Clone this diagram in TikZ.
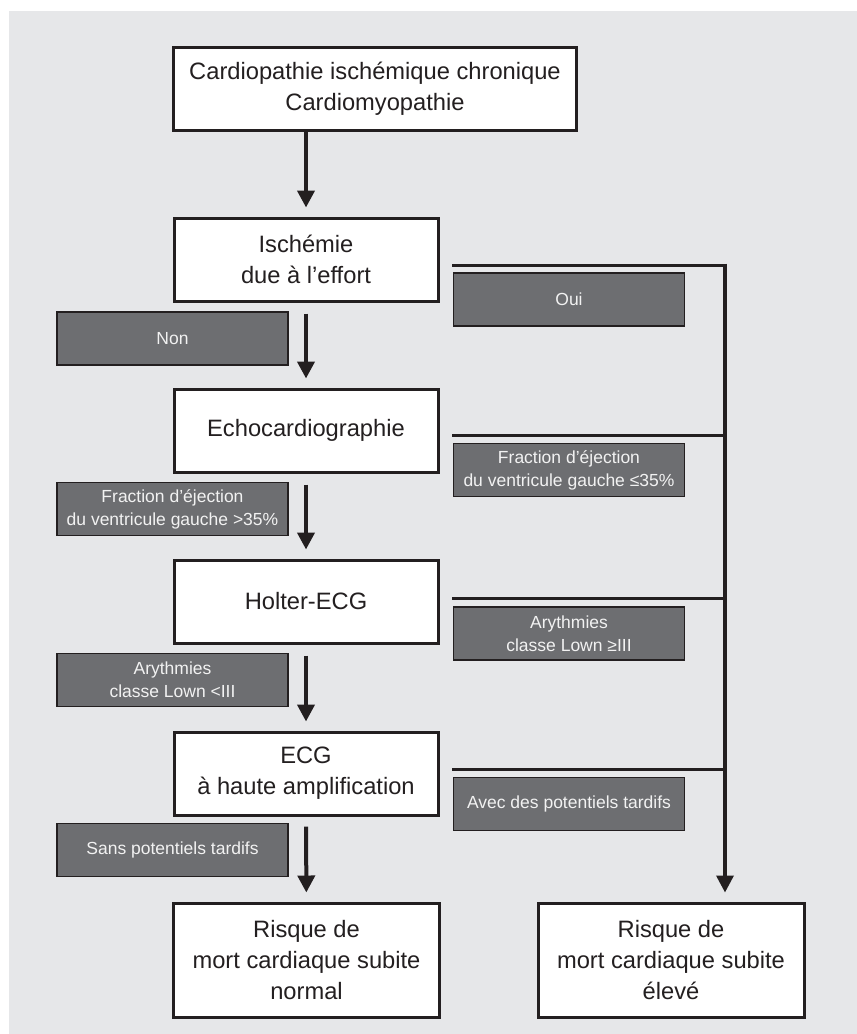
\documentclass[tikz,border=0pt]{standalone}
\usepackage{fontspec}
\setmainfont{Liberation Sans}
\usetikzlibrary{arrows.meta,calc}
\definecolor{bggray}{HTML}{E6E7E9}
\definecolor{boxdark}{HTML}{6D6E71}
\definecolor{ink}{HTML}{231F20}
\definecolor{lighttext}{HTML}{F2F2F2}
\begin{document}
\begin{tikzpicture}[x=1pt,y=-1pt,
  mainbox/.style={draw=ink, line width=3pt, fill=white, text=ink, align=center,
    font=\fontsize{23.7}{31}\selectfont, inner sep=0pt},
  stdbox/.style={mainbox, minimum width=264pt, minimum height=83pt},
  endbox/.style={mainbox, minimum width=266pt, minimum height=114pt},
  labelbox/.style={draw=ink, line width=1.2pt, fill=boxdark, text=lighttext, align=center,
    font=\fontsize{17.5}{23}\selectfont, minimum width=231pt, minimum height=53pt, inner sep=0pt},
  flow/.style={draw=ink, line width=4pt, -{Triangle[length=17pt,width=17pt]}},
  branch/.style={draw=ink, line width=3pt, line cap=rect}]
\useasboundingbox (0,0) rectangle (857,1034);
\fill[white] (0,0) rectangle (857,1034);
\fill[bggray] (9,11) rectangle (857,1034);

% main boxes
\node[mainbox, minimum width=403pt, minimum height=83pt] (top) at (375,89)
  {Cardiopathie ischémique chronique\\Cardiomyopathie};
\node[stdbox] (isch) at (306,259.5) {Ischémie\\due à l’effort};
\node[stdbox] (echo) at (306,430.5) {Echocardiographie};
\node[stdbox] (holter) at (306,601.5) {Holter-ECG};
\node[stdbox] (ecg) at (306,773.5) {ECG\\à haute amplification};
\node[endbox] (normal) at (306.5,960) {Risque de\\mort cardiaque subite\\normal};
\node[endbox] (eleve) at (671,960) {Risque de\\mort cardiaque subite\\élevé};

% left labels
\node[labelbox] (non) at (172.5,338.5) {Non};
\node[labelbox] (fegt) at (172.5,509) {Fraction d’éjection\\du ventricule gauche >35\%};
\node[labelbox] (arlt) at (172.5,680) {Arythmies\\classe Lown <III};
\node[labelbox] (sans) at (172.5,850) {Sans potentiels tardifs};

% right labels
\node[labelbox] (oui) at (569,299.5) {Oui};
\node[labelbox] (fele) at (569,470) {Fraction d’éjection\\du ventricule gauche ≤35\%};
\node[labelbox] (arge) at (569,633.5) {Arythmies\\classe Lown ≥III};
\node[labelbox] (avec) at (569,804) {Avec des potentiels tardifs};

% main flow arrows
\draw[flow, shorten >=9pt] (isch.north |- top.south) -- (isch.north);
\draw[flow, shorten <=11pt, shorten >=9pt] (isch) -- (echo);
\draw[flow, shorten <=11pt, shorten >=9pt] (echo) -- (holter);
\draw[flow, shorten <=11pt, shorten >=9pt] (holter) -- (ecg);
\draw[flow, shorten <=10pt, shorten >=9pt] (ecg) -- (normal);

% right branch
\coordinate (h1) at (453,265);
\coordinate (h2) at (453,435);
\coordinate (h3) at (453,598);
\coordinate (h4) at (453,769);
\coordinate (v1) at (725,265);
\coordinate (v2) at (725,435);
\coordinate (v3) at (725,598);
\coordinate (v4) at (725,769);
\coordinate (vend) at (eleve.north -| v1);
\draw[branch] (h1) -- (v1);
\draw[branch] (h2) -- (v2);
\draw[branch] (h3) -- (v3);
\draw[branch] (h4) -- (v4);
\draw[flow, line width=3.5pt, shorten >=9pt] ($(v1)+(0,-1.5)$) -- (vend);
\end{tikzpicture}
\end{document}
